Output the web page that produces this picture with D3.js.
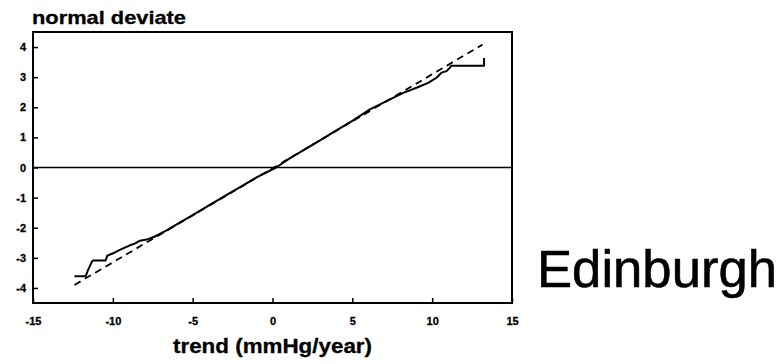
<!DOCTYPE html>
<html>
<head>
<meta charset="utf-8">
<script src="https://cdn.jsdelivr.net/npm/d3@7"></script>
<style>
  body { margin: 0; background: #fff; }
  svg { display: block; }
  text { font-family: "Liberation Sans", Arial, sans-serif; fill: #000; }
</style>
</head>
<body>
<div id="chart"></div>
<script>
// trend values (mmHg/year) vs normal deviate
let trendX = [-12.4, -11.7, -11.55, -11.3, -11.25, -10.45, -10.35, -9.9, -9.5, -9.0, -8.6, -8.3, -7.8, -7.4, -6.6, -6.0, -5.0, -3.9, -3.0, -2.0, -1.0, 0.23, 1.0, 2.0, 3.0, 4.0, 5.0, 6.1, 7.36, 8.19, 9.02, 9.75, 10.27, 10.59, 10.9, 11.1, 11.2, 13.25, 13.25];
let deviateY = [-3.61, -3.61, -3.40, -3.12, -3.09, -3.09, -2.93, -2.83, -2.72, -2.60, -2.52, -2.43, -2.38, -2.30, -2.08, -1.89, -1.58, -1.23, -0.95, -0.64, -0.33, 0.0, 0.28, 0.59, 0.91, 1.23, 1.55, 1.93, 2.26, 2.48, 2.65, 2.81, 2.98, 3.15, 3.20, 3.31, 3.38, 3.38, 3.64];

// fitted normal line end points
let fitX = [-12.4, 13.15];
let fitY = [-3.90, 4.08];

let xTicks = [-15, -10, -5, 0, 5, 10, 15];
let yTicks = [-4, -3, -2, -1, 0, 1, 2, 3, 4];

let width = 784, height = 364;
let plotLeft = 33, plotRight = 512, plotTop = 32, plotBottom = 303;

let x = d3.scaleLinear().domain([-15, 15]).range([plotLeft, plotRight]);
let y = d3.scaleLinear().domain([-4.5, 4.5]).range([plotBottom, plotTop]);

let svg = d3.select("#chart").append("svg")
    .attr("width", width)
    .attr("height", height);

// zero line
svg.append("line")
    .attr("x1", plotLeft).attr("x2", plotRight)
    .attr("y1", y(0)).attr("y2", y(0))
    .attr("stroke", "#000").attr("stroke-width", 1.6);

// axes with inward ticks, plain hyphen minus like the original
let fmt = d => String(d);
let xAxis = svg.append("g")
    .attr("transform", `translate(0,${plotBottom})`)
    .call(d3.axisBottom(x).tickValues(xTicks).tickFormat(fmt).tickSizeInner(-5).tickSizeOuter(0).tickPadding(14));
let yAxis = svg.append("g")
    .attr("transform", `translate(${plotLeft},0)`)
    .call(d3.axisLeft(y).tickValues(yTicks).tickFormat(fmt).tickSizeInner(-5).tickSizeOuter(0).tickPadding(7));

[xAxis, yAxis].forEach(a => {
    a.select(".domain").remove();
    a.selectAll("line").attr("stroke", "#000").attr("stroke-width", 1.5);
    a.selectAll("text")
        .attr("font-family", "'Liberation Sans', Arial, sans-serif")
        .attr("font-weight", "bold")
        .attr("font-size", 11)
        .attr("stroke", "#000").attr("stroke-width", 0.3)
        .attr("fill", "#000");
});

// frame
svg.append("rect")
    .attr("x", plotLeft).attr("y", plotTop)
    .attr("width", plotRight - plotLeft).attr("height", plotBottom - plotTop)
    .attr("fill", "none").attr("stroke", "#000").attr("stroke-width", 2);

// fitted (dashed) line
svg.append("path")
    .datum(d3.zip(fitX, fitY))
    .attr("fill", "none")
    .attr("stroke", "#000")
    .attr("stroke-width", 1.8)
    .attr("stroke-dasharray", "7,5")
    .attr("d", d3.line().x(d => x(d[0])).y(d => y(d[1])));

// observed curve
svg.append("path")
    .datum(d3.zip(trendX, deviateY))
    .attr("fill", "none")
    .attr("stroke", "#000")
    .attr("stroke-width", 2)
    .attr("stroke-linejoin", "round")
    .attr("d", d3.line().x(d => x(d[0])).y(d => y(d[1])));

// labels
svg.append("text")
    .attr("x", 32).attr("y", 24)
    .attr("font-weight", "bold").attr("font-size", 19)
    .attr("stroke", "#000").attr("stroke-width", 0.3)
    .attr("textLength", 154).attr("lengthAdjust", "spacingAndGlyphs")
    .text("normal deviate");

svg.append("text")
    .attr("x", x(0)).attr("y", 353)
    .attr("text-anchor", "middle")
    .attr("font-weight", "bold").attr("font-size", 20)
    .attr("stroke", "#000").attr("stroke-width", 0.3)
    .attr("textLength", 199).attr("lengthAdjust", "spacingAndGlyphs")
    .text("trend (mmHg/year)");

svg.append("text")
    .attr("x", 537).attr("y", 287)
    .attr("font-size", 51)
    .attr("stroke", "#000").attr("stroke-width", 0.6)
    .attr("textLength", 240).attr("lengthAdjust", "spacingAndGlyphs")
    .text("Edinburgh");
</script>
</body>
</html>
